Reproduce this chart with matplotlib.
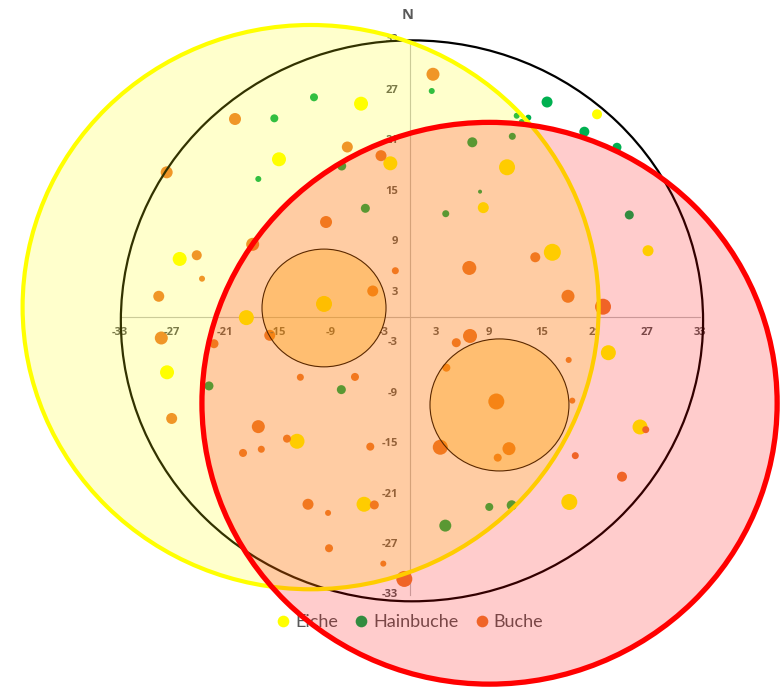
import matplotlib
matplotlib.use("Agg")
import matplotlib.pyplot as plt
from matplotlib.patches import Ellipse
from matplotlib.lines import Line2D

# ---------------- data ----------------
series_names = ["Eiche", "Hainbuche", "Buche"]
series_colors = ["#FFFF00", "#00B050", "#ED7D31"]

eiche_x = [-5.54, -2.21, -14.87, 21.29, 11.06, 8.36, 16.21, 27.09, -26.16, -9.75,
           -18.58, -27.60, 22.58, -12.82, -5.20, 26.18, 18.14]
eiche_y = [25.42, 18.33, 18.81, 24.16, 17.86, 13.06, 7.75, 7.94, 6.96, 1.61,
           -0.02, -6.52, -4.19, -14.72, -22.21, -13.02, -21.94]
eiche_size = [7, 7, 7, 5, 8, 5.5, 8.5, 5.5, 7, 8,
              7.5, 7, 7.5, 7.5, 7.5, 7.5, 8]

hainbuche_x = [-15.40, -10.89, -7.74, -17.22, 2.50, 15.61, 12.16, 13.48, 12.73, 19.85,
               23.56, 7.11, 11.66, 7.99, -5.05, 4.09, 24.96, -22.83, -7.78, 9.04,
               11.59, 4.04]
hainbuche_y = [23.68, 26.18, 18.01, 16.47, 26.93, 25.62, 23.99, 23.76, 23.24, 22.09,
               20.24, 20.83, 21.54, 14.96, 12.98, 12.34, 12.19, -8.14, -8.58, -22.53,
               -22.33, -24.75]
hainbuche_size = [4, 4, 4.5, 3, 3, 5.5, 3, 3, 3, 5,
                  4.5, 5, 3.5, 2, 4.5, 3.5, 4.5, 4.5, 4.5, 4,
                  5, 6]

buche_x = [-19.87, -7.10, -3.27, -27.64, 2.64, -9.52, -17.86, -24.22, -23.62, -1.64,
           -4.21, -28.54, -28.25, -15.92, -22.26, -12.44, -6.23, -27.07, 14.27, 6.77,
           17.99, 21.97, 6.85, 5.29, 18.07, 4.16, 9.84, 18.48, -17.22, -13.96,
           -18.96, -16.88, -4.49, -11.57, -4.03, -9.29, -9.18, -3.01, -0.62, 3.47,
           11.28, 10.00, 26.83, 18.82, 24.13]
buche_y = [23.60, 20.27, 19.24, 17.26, 28.92, 11.35, 8.70, 7.40, 4.61, 5.56,
           3.15, 2.52, -2.44, -2.12, -3.12, -7.11, -7.07, -12.01, 7.16, 5.89,
           2.52, 1.28, -2.20, -3.00, -5.05, -5.97, -9.99, -9.89, -12.98, -14.41,
           -16.11, -15.67, -15.36, -22.21, -22.29, -23.24, -27.44, -29.27, -31.09, -15.43,
           -15.60, -16.67, -13.34, -16.43, -18.93]
buche_size = [6, 5.5, 5.5, 6, 6.5, 6, 6.5, 5, 3, 3.5,
              5.5, 5.5, 6.5, 5.5, 4.5, 3.5, 4, 5.5, 5, 7,
              6.5, 8, 7, 4.5, 3, 4, 8, 3, 6.5, 4,
              4, 3.5, 4, 5.5, 4.5, 3, 4, 3, 8, 7.5,
              6.5, 4, 3.5, 3.5, 5]

# large zone circles (centre x, centre y, radius x, radius y)
zone_x = [0.25, -11.27, 9.07]
zone_y = [-0.40, 1.23, -10.20]
zone_rx = [33.1, 32.75, 32.7]
zone_ry = [33.35, 33.55, 33.4]

# small highlight circles
hot_x = [-9.75, 10.2]
hot_y = [1.13, -10.4]
hot_rx = [7.05, 7.9]
hot_ry = [7.0, 7.85]

ticks = [-33, -27, -21, -15, -9, -3, 3, 9, 15, 21, 27, 33]

# ---------------- figure ----------------
fig = plt.figure(figsize=(7.84, 6.87), dpi=100)
ax = fig.add_axes([0, 0, 1, 1])
ax.set_xlim(-46.59, 42.55)
ax.set_ylim(-43.94, 37.75)
ax.axis("off")

gray = "#595959"
bold_fam = ["Open Sans", "DejaVu Sans"]
leg_fam = ["Lato", "DejaVu Sans"]

# axes lines through origin
ax.plot([ticks[0], ticks[-1]], [0, 0], color="#BFBFBF", lw=0.8, zorder=1)
ax.plot([0, 0], [ticks[0], ticks[-1]], color="#BFBFBF", lw=0.8, zorder=1)

# tick labels
px_x = 8.795
px_y = 8.41
for t in ticks:
    ax.text(t, -15.0 / px_y, f"{t}", ha="center", va="center", fontsize=8,
            fontweight="bold", color=gray, family=bold_fam, zorder=3)
    ax.text(-11.8 / px_x, t, f"{t}", ha="right", va="center", fontsize=8,
            fontweight="bold", color=gray, family=bold_fam, zorder=3)

ax.text(-0.2, 35.97, "N", ha="center", va="center", fontsize=10.5,
        fontweight="bold", color=gray, family=bold_fam, zorder=3)

# bubbles
def sz(vals):
    return [(1.44 * v) ** 2 for v in vals]

ax.scatter(eiche_x, eiche_y, s=sz(eiche_size), color=series_colors[0],
           edgecolors="none", zorder=2)
ax.scatter(hainbuche_x, hainbuche_y, s=sz(hainbuche_size), color=series_colors[1],
           edgecolors="none", zorder=2)
ax.scatter(buche_x, buche_y, s=sz(buche_size), color=series_colors[2],
           edgecolors="none", zorder=2)

# legend (drawn beneath the zone circles)
handles = [Line2D([], [], marker="o", linestyle="none", markerfacecolor=c,
                  markeredgecolor="none", markersize=8.4) for c in series_colors]
leg = ax.legend(handles, series_names, loc="center", bbox_to_anchor=(0.523, 0.0946),
                ncol=3, frameon=False, handlelength=0.7, handletextpad=0.3,
                columnspacing=0.95, borderpad=0, prop={"family": leg_fam, "size": 13})
for txt in leg.get_texts():
    txt.set_color(gray)
leg.set_zorder(2.5)

# small highlight circles
for cx, cy, rx, ry in zip(hot_x, hot_y, hot_rx, hot_ry):
    ax.add_patch(Ellipse((cx, cy), 2 * rx, 2 * ry, facecolor=(1.0, 0.753, 0.0, 0.3),
                         edgecolor="black", lw=0.8, zorder=4))

# zone circles
ax.add_patch(Ellipse((zone_x[0], zone_y[0]), 2 * zone_rx[0], 2 * zone_ry[0],
                     facecolor="none", edgecolor="black", lw=1.6, zorder=5))
ax.add_patch(Ellipse((zone_x[1], zone_y[1]), 2 * zone_rx[1], 2 * zone_ry[1],
                     facecolor=(1, 1, 0, 0.2), edgecolor=(1, 1, 0, 1), lw=3.0, zorder=6))
ax.add_patch(Ellipse((zone_x[2], zone_y[2]), 2 * zone_rx[2], 2 * zone_ry[2],
                     facecolor=(1, 0, 0, 0.2), edgecolor=(1, 0, 0, 1), lw=3.8, zorder=7))

fig.savefig("out.png", dpi=100)
